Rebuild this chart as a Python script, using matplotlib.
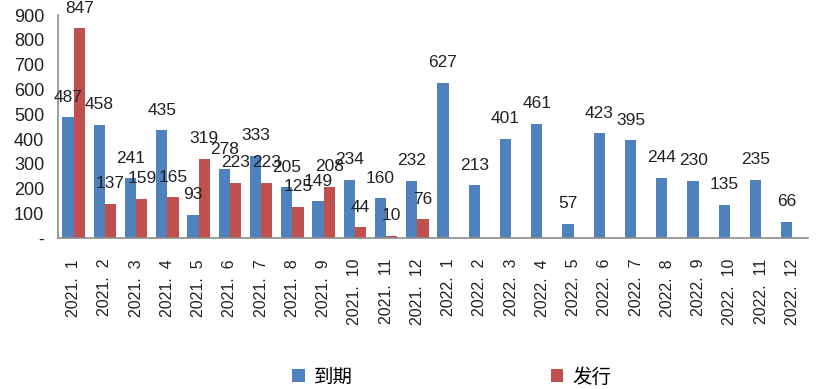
import numpy as np
import matplotlib
matplotlib.use("Agg")
import matplotlib.pyplot as plt
from matplotlib.ticker import FuncFormatter

plt.rcParams["font.family"] = ["Liberation Sans", "Noto Sans CJK SC", "DejaVu Sans"]

months = ["2021.  1", "2021.  2", "2021.  3", "2021.  4", "2021.  5", "2021.  6",
          "2021.  7", "2021.  8", "2021.  9", "2021.  10", "2021.  11", "2021.  12",
          "2022.  1", "2022.  2", "2022.  3", "2022.  4", "2022.  5", "2022.  6",
          "2022.  7", "2022.  8", "2022.  9", "2022.  10", "2022.  11", "2022.  12"]
maturity = [487, 458, 241, 435, 93, 278, 333, 205, 149, 234, 160, 232,
            627, 213, 401, 461, 57, 423, 395, 244, 230, 135, 235, 66]
# issuance only reported for 2021
issuance = [847, 137, 159, 165, 319, 223, 223, 125, 208, 44, 10, 76]

blue = "#4F81BD"
red = "#C0504D"

fig = plt.figure(figsize=(8.18, 3.89), dpi=100)
ax = fig.add_axes([0.0709, 0.388, 0.917, 0.573])

x = np.arange(len(months))
w = 0.36
b1 = ax.bar(x - w / 2, maturity, w, color=blue, label="到期")
b2 = ax.bar(x[:len(issuance)] + w / 2, issuance, w, color=red, label="发行")

for bars in (b1, b2):
    for r in bars:
        ax.annotate(f"{int(r.get_height())}",
                    (r.get_x() + r.get_width() / 2, r.get_height()),
                    xytext=(0, 14.5), textcoords="offset points",
                    ha="center", va="center", fontsize=12.5, color="#222222")

ax.set_xlim(-0.5, len(months) - 0.5)
ax.set_ylim(0, 900)
ax.set_yticks(range(0, 901, 100))
ax.yaxis.set_major_formatter(FuncFormatter(lambda v, p: "-" if v == 0 else f"{int(v)}"))
ax.set_xticks(x)
ax.set_xticklabels(months, rotation=90)
ax.tick_params(axis="both", length=0, colors="#222222")
ax.tick_params(axis="y", labelsize=13, pad=10)
ax.tick_params(axis="x", labelsize=11.5, pad=15)

for s in ("top", "right"):
    ax.spines[s].set_visible(False)
for s in ("left", "bottom"):
    ax.spines[s].set_color("#8c8c8c")
    ax.spines[s].set_linewidth(1.2)

fig.legend(handles=[b1, b2], loc="center", bbox_to_anchor=(0.552, 0.031),
           ncol=2, frameon=False, prop={"family": "Noto Sans CJK SC", "size": 14},
           handlelength=0.65, handleheight=0.65, handletextpad=0.45,
           columnspacing=10.2, borderpad=0)

fig.savefig("out.png", dpi=100)
